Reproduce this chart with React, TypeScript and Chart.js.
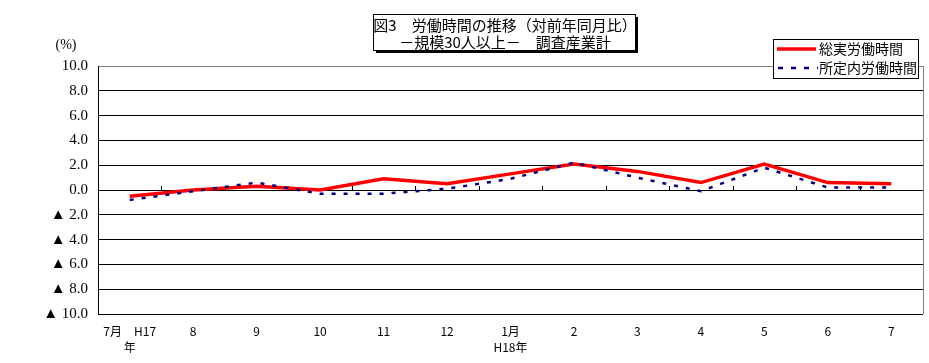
import React, { useEffect, useRef } from "react";
import { Chart, registerables } from "chart.js";

Chart.register(...registerables);

const categories: (string | string[])[] = [
  ["7月　H17", "年"], "8", "9", "10", "11", "12", ["1月", "H18年"], "2", "3", "4", "5", "6", "7",
];
const totalHours = [-0.5, 0.0, 0.3, 0.0, 0.9, 0.5, 1.3, 2.1, 1.5, 0.6, 2.1, 0.6, 0.5];
const scheduledHours = [-0.8, -0.1, 0.6, -0.3, -0.3, 0.1, 0.9, 2.2, 1.0, -0.1, 1.8, 0.2, 0.2];
const seriesNames = ["総実労働時間", "所定内労働時間"];
const titleLines = ["図3　労働時間の推移（対前年同月比）", "－規模30人以上－　調査産業計"];
const unitLabel = "(%)";

const JP = '"Noto Sans CJK JP", "Noto Sans", sans-serif';
const SERIF = '"Liberation Serif", "DejaVu Serif", serif';
const RED = "#ff0000";
const BLUE = "#000080";

const decor = {
  id: "decor",
  beforeDatasetsDraw(chart: any) {
    const { ctx, chartArea } = chart;
    const x = chart.scales.x;
    const y = chart.scales.y;
    const y0 = y.getPixelForValue(0);
    ctx.save();
    ctx.strokeStyle = "#000";
    ctx.lineWidth = 1;
    for (let i = 1; i < categories.length; i++) {
      const px = Math.round((x.getPixelForValue(i - 1) + x.getPixelForValue(i)) / 2) + 0.5;
      ctx.beginPath();
      ctx.moveTo(px, y0 - 4);
      ctx.lineTo(px, y0);
      ctx.stroke();
    }
    // right border
    ctx.strokeStyle = "#808080";
    ctx.beginPath();
    ctx.moveTo(Math.round(chartArea.right) + 0.5, chartArea.top);
    ctx.lineTo(Math.round(chartArea.right) + 0.5, chartArea.bottom);
    ctx.stroke();
    ctx.restore();
  },
  afterDraw(chart: any) {
    const { ctx } = chart;
    ctx.save();
    // unit
    ctx.fillStyle = "#000";
    ctx.font = `14px ${SERIF}`;
    ctx.textAlign = "center";
    ctx.textBaseline = "middle";
    ctx.fillText(unitLabel, 66, 45);

    // title box
    const tx = 373, ty = 14, tw = 262, th = 36;
    ctx.fillStyle = "#000";
    ctx.fillRect(tx + 3, ty + 3, tw, th);
    ctx.fillStyle = "#fff";
    ctx.fillRect(tx, ty, tw, th);
    ctx.strokeStyle = "#000";
    ctx.lineWidth = 1;
    ctx.strokeRect(tx + 0.5, ty + 0.5, tw, th);
    ctx.fillStyle = "#000";
    ctx.font = `15px ${JP}`;
    ctx.textAlign = "center";
    ctx.fillText(titleLines[0], tx + tw / 2 + 1, 25);
    ctx.fillText(titleLines[1], tx + tw / 2 + 1, 42);

    // legend
    const lx = 773, ly = 39, lw = 145, lh = 39;
    ctx.fillStyle = "#fff";
    ctx.fillRect(lx, ly, lw, lh);
    ctx.strokeStyle = "#000";
    ctx.strokeRect(lx + 0.5, ly + 0.5, lw, lh);
    const rows = [49, 68];
    ctx.lineWidth = 3.5;
    ctx.strokeStyle = RED;
    ctx.beginPath();
    ctx.moveTo(777, rows[0]);
    ctx.lineTo(816, rows[0]);
    ctx.stroke();
    ctx.lineWidth = 2.5;
    ctx.strokeStyle = BLUE;
    ctx.setLineDash([5, 8]);
    ctx.beginPath();
    ctx.moveTo(778, rows[1]);
    ctx.lineTo(818, rows[1]);
    ctx.stroke();
    ctx.setLineDash([]);
    ctx.fillStyle = "#000";
    ctx.font = `14px ${JP}`;
    ctx.textAlign = "left";
    ctx.fillText(seriesNames[0], 819, rows[0]);
    ctx.fillText(seriesNames[1], 819, rows[1]);
    ctx.restore();
  },
};

export default function App() {
  const ref = useRef<HTMLCanvasElement>(null);
  useEffect(() => {
    if (!ref.current) return;
    const chart = new Chart(ref.current, {
      type: "line",
      data: {
        labels: categories,
        datasets: [
          {
            label: seriesNames[0],
            data: totalHours,
            borderColor: RED,
            backgroundColor: RED,
            borderWidth: 3.5,
            pointRadius: 0,
            tension: 0,
            order: 1,
          },
          {
            label: seriesNames[1],
            data: scheduledHours,
            borderColor: BLUE,
            backgroundColor: BLUE,
            borderWidth: 2.5,
            borderDash: [4, 8],
            pointRadius: 0,
            tension: 0,
            order: 0,
          },
        ],
      },
      options: {
        responsive: false,
        animation: false,
        layout: { padding: { top: 66, right: 6, left: 0, bottom: 0 } },
        plugins: {
          legend: { display: false },
          title: { display: false },
          tooltip: { enabled: false },
        },
        scales: {
          x: {
            offset: true,
            grid: { display: false, drawTicks: false },
            border: { display: false },
            ticks: {
              color: "#000",
              padding: 10,
              maxRotation: 0,
              autoSkip: false,
              font: { family: JP, size: 12, lineHeight: 1.3 },
            },
            afterFit(scale: any) {
              scale.height = 49;
            },
          },
          y: {
            min: -10,
            max: 10,
            ticks: {
              stepSize: 2,
              color: "#000",
              padding: 10,
              font: { family: SERIF, size: 15 },
              callback: (v: any) => {
                const n = Number(v);
                return n < 0 ? "▲ " + Math.abs(n).toFixed(1) : n.toFixed(1);
              },
            },
            grid: {
              drawTicks: false,
              color: (c: any) => (c.tick && c.tick.value === 10 ? "#808080" : "#000"),
              lineWidth: 1,
            },
            border: { display: true, color: "#000", width: 1 },
            afterFit(scale: any) {
              scale.width = 98;
            },
          },
        },
      },
      plugins: [decor],
    });
    return () => chart.destroy();
  }, []);
  return (
    <div style={{ position: "fixed", left: 0, top: 0, width: 929, height: 363, background: "#fff" }}>
      <canvas ref={ref} width={929} height={363} style={{ width: 929, height: 363 }} />
    </div>
  );
}
